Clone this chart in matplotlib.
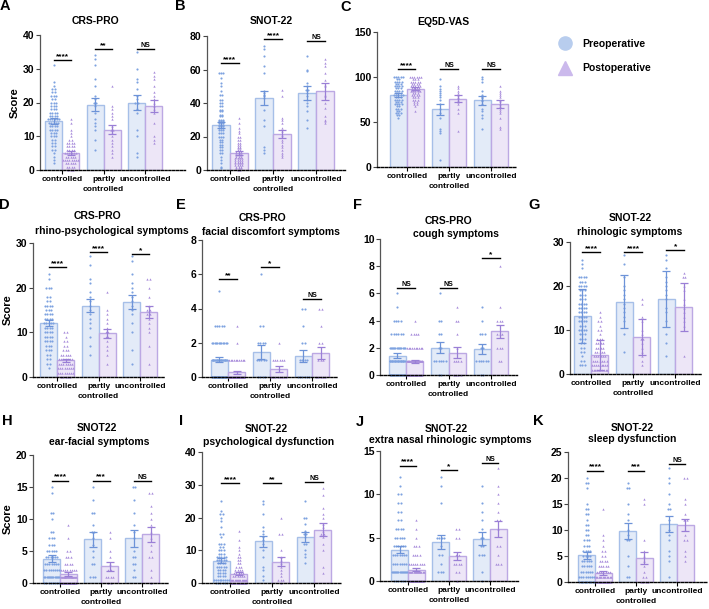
import matplotlib
matplotlib.use("Agg")
import matplotlib.pyplot as plt
import numpy as np

plt.rcParams['font.family'] = ['Liberation Sans', 'DejaVu Sans']
plt.rcParams['font.weight'] = 'bold'

W, H = 709, 609

# first line of each category label, second line drawn separately
categories = ["controlled", "partly", "uncontrolled"]
second_line = ["", "controlled", ""]

# ---- panel meta: letter, title lines, y max, y tick step
letters = ["A", "B", "C", "D", "E", "F", "G", "H", "I", "J", "K"]
titles = [["CRS-PRO"], ["SNOT-22"], ["EQ5D-VAS"],
          ["CRS-PRO", "rhino-psychological symptoms"],
          ["CRS-PRO", "facial discomfort symptoms"],
          ["CRS-PRO", "cough symptoms"],
          ["SNOT-22", "rhinologic symptoms"],
          ["SNOT22", "ear-facial symptoms"],
          ["SNOT-22", "psychological dysfunction"],
          ["SNOT-22", "extra nasal rhinologic symptoms"],
          ["SNOT-22", "sleep dysfunction"]]
ymax = [40, 80, 150, 30, 8, 10, 30, 20, 40, 15, 25]
ystep = [10, 20, 50, 10, 2, 2, 10, 5, 10, 5, 5]

# ---- bar means / error (pre, post) per group
pre_mean = [[14.5, 19.4, 20.0], [27.0, 43.0, 46.0], [80.0, 64.0, 74.0],
            [12.1, 16.0, 16.8], [1.0, 1.45, 1.25], [1.42, 2.0, 1.92],
            [13.2, 16.4, 17.1], [3.8, 6.8, 7.0], [6.8, 12.7, 14.0],
            [3.6, 4.5, 4.9], [5.1, 9.8, 11.1]]
pre_err = [[0.8, 1.8, 2.1], [1.7, 4.0, 4.0], [2.0, 6.0, 5.0],
           [0.7, 1.5, 1.6], [0.15, 0.4, 0.35], [0.2, 0.4, 0.35],
           [6.2, 6.0, 6.4], [0.5, 1.1, 1.3], [0.8, 1.8, 1.5],
           [0.4, 0.8, 0.8], [0.7, 1.5, 1.5]]
post_mean = [[5.0, 12.0, 19.0], [10.0, 21.5, 47.0], [87.0, 76.0, 70.0],
             [3.7, 9.8, 14.5], [0.27, 0.47, 1.38], [1.0, 1.65, 3.2],
             [4.3, 8.4, 15.2], [1.4, 2.6, 7.6], [2.9, 6.5, 16.3],
             [1.3, 2.9, 6.0], [1.8, 4.6, 11.0]]
post_err = [[0.5, 1.3, 1.7], [1.2, 2.5, 5.0], [1.5, 3.5, 4.0],
            [0.4, 1.0, 1.3], [0.08, 0.15, 0.35], [0.1, 0.4, 0.5],
            [3.5, 4.0, 5.4], [0.25, 0.7, 1.2], [0.5, 1.4, 1.9],
            [0.2, 0.5, 0.9], [0.4, 1.2, 1.2]]

# ---- significance labels and heights
sig_text = [["****", "**", "NS"], ["****", "****", "NS"], ["****", "NS", "NS"],
            ["****", "****", "*"], ["**", "*", "NS"], ["NS", "NS", "*"],
            ["****", "****", "*"], ["****", "***", "NS"], ["****", "**", "NS"],
            ["****", "*", "NS"], ["****", "***", "NS"]]
sig_y = [[32.6, 35.9, 35.9], [64, 78, 77], [109, 109, 109],
         [24.6, 28, 27.5], [5.7, 6.4, 4.55], [6.4, 6.4, 8.6],
         [27.7, 27.7, 28.2], [16, 16, 16], [30.4, 30.4, 30.7],
         [13.3, 12.8, 13.6], [21.4, 21.4, 22.7]]

# ---- individual scores, controlled groups as {value: count}
ctrl_pre = [
    {31: 1, 26: 1, 25: 1, 24: 2, 23: 2, 22: 3, 21: 2, 20: 3, 19: 3, 18: 3, 17: 4, 16: 4, 15: 6,
     14: 5, 13: 4, 12: 4, 11: 3, 10: 3, 9: 2, 8: 2, 7: 2, 6: 2, 5: 1, 4: 1, 3: 1, 2: 1},
    {58: 3, 55: 1, 52: 1, 50: 1, 47: 1, 45: 2, 42: 2, 40: 2, 38: 2, 36: 2, 35: 2, 33: 2, 32: 2,
     30: 3, 29: 3, 28: 3, 27: 3, 26: 3, 25: 3, 24: 3, 22: 3, 20: 3, 18: 2, 17: 2, 15: 2, 14: 2,
     12: 2, 10: 2, 8: 1, 6: 1, 4: 1, 2: 1, 1: 1},
    {100: 5, 98: 2, 95: 4, 92: 3, 90: 4, 88: 3, 85: 4, 82: 3, 80: 5, 78: 3, 75: 4, 72: 3, 70: 4,
     68: 2, 65: 3, 62: 2, 60: 3, 58: 2, 55: 1},
    {23: 1, 22: 1, 20: 3, 18: 2, 17: 2, 16: 4, 15: 3, 14: 4, 13: 4, 12: 5, 11: 4, 10: 4, 9: 4,
     8: 4, 7: 3, 6: 3, 5: 2, 4: 2, 3: 2, 2: 1},
    {5: 1, 3: 5, 2: 12, 1: 20, 0: 27},
    {6: 1, 5: 1, 4: 4, 3: 6, 2: 14, 1: 22, 0: 17},
    {26: 1, 25: 1, 24: 1, 22: 4, 21: 3, 20: 4, 19: 3, 18: 3, 17: 3, 16: 4, 15: 4, 14: 4, 13: 4,
     12: 4, 11: 3, 10: 4, 9: 3, 8: 3, 7: 2, 6: 2, 5: 2, 4: 1, 3: 2, 2: 3},
    {15: 1, 14: 1, 11: 2, 10: 1, 8: 2, 7: 3, 6: 3, 5: 5, 4: 6, 3: 7, 2: 8, 1: 14, 0: 8},
    {25: 1, 22: 1, 21: 2, 20: 1, 19: 1, 17: 1, 15: 2, 14: 1, 12: 3, 11: 2, 10: 3, 9: 3, 8: 5,
     7: 5, 6: 4, 5: 5, 4: 4, 3: 4, 2: 4, 1: 9, 0: 6},
    {12: 1, 11: 1, 10: 2, 9: 2, 8: 2, 7: 2, 6: 4, 5: 5, 4: 6, 3: 7, 2: 7, 1: 15, 0: 6},
    {20: 1, 19: 2, 18: 1, 15: 1, 14: 2, 13: 2, 12: 1, 11: 2, 10: 2, 9: 2, 8: 3, 7: 3, 6: 4,
     5: 4, 4: 5, 3: 5, 2: 6, 1: 8, 0: 12},
]
ctrl_post = [
    {15: 1, 14: 1, 12: 1, 11: 1, 10: 1, 9: 2, 8: 4, 7: 4, 6: 4, 5: 6, 4: 5, 3: 8, 2: 5, 1: 4, 0: 3},
    {31: 1, 28: 1, 25: 1, 23: 1, 22: 1, 20: 2, 18: 2, 16: 2, 15: 2, 14: 2, 13: 2, 12: 2, 11: 3,
     10: 3, 9: 3, 8: 3, 7: 4, 6: 4, 5: 4, 4: 4, 3: 4, 2: 3, 1: 3, 0: 2},
    {100: 6, 98: 3, 95: 5, 92: 4, 90: 5, 88: 4, 86: 4, 85: 5, 82: 3, 80: 4, 78: 3, 75: 3, 72: 2,
     70: 2, 68: 1, 62: 1},
    {10: 2, 9: 1, 8: 2, 7: 2, 6: 3, 5: 5, 4: 7, 3: 7, 2: 8, 1: 8, 0: 5},
    {3: 1, 2: 1, 1: 10, 0: 48},
    {4: 1, 3: 4, 2: 10, 1: 26, 0: 19},
    {14: 1, 13: 1, 12: 2, 11: 1, 10: 2, 9: 1, 8: 3, 7: 4, 6: 4, 5: 5, 4: 6, 3: 7, 2: 9, 1: 10},
    {9: 1, 7: 1, 5: 2, 4: 3, 3: 4, 2: 8, 1: 18, 0: 20},
    {16: 1, 13: 1, 11: 1, 10: 1, 9: 1, 8: 2, 7: 2, 6: 2, 5: 3, 4: 4, 3: 5, 2: 6, 1: 14, 0: 15},
    {7: 1, 6: 1, 5: 1, 4: 3, 3: 4, 2: 8, 1: 14, 0: 24},
    {14: 1, 9: 1, 8: 1, 7: 1, 6: 2, 5: 2, 4: 4, 3: 5, 2: 7, 1: 12, 0: 18},
]
# partly controlled / uncontrolled individual scores
part_pre = [
    [34, 33, 31, 27, 25, 22, 21, 20, 20, 19, 17, 15, 14, 13, 12, 9, 6],
    [74, 72, 68, 62, 58, 47, 46, 45, 44, 43, 36, 30, 26, 14, 12, 10],
    [98, 90, 87, 85, 82, 80, 78, 75, 70, 65, 60, 55, 42, 40, 38, 8],
    [27, 25, 22, 21, 19, 18, 17, 16, 15, 14, 13, 12, 11, 9, 7, 5],
    [6, 3, 3, 2, 2, 2, 2, 1, 1, 1, 1, 1, 0, 0, 0, 0],
    [6, 4, 4, 3, 3, 2, 2, 1, 1, 1, 1, 1, 1, 0, 0],
    [27, 25, 22, 20, 19, 18, 17, 16, 15, 14, 13, 12, 9, 5],
    [15, 13, 11, 11, 9, 8, 8, 7, 6, 5, 4, 3, 3, 1, 1, 1],
    [25, 24, 21, 17, 16, 15, 14, 13, 12, 10, 8, 5, 4, 2, 1],
    [12, 11, 9, 5, 5, 5, 5, 4, 3, 3, 2, 1, 1, 1],
    [19, 18, 18, 15, 13, 12, 10, 9, 8, 8, 5, 3, 1, 1],
]
part_post = [
    [25, 19, 18, 17, 16, 15, 13, 12, 12, 11, 10, 9, 8, 7, 6, 5, 4],
    [48, 44, 31, 30, 28, 25, 23, 21, 20, 18, 17, 15, 14, 12, 10, 9, 8],
    [90, 88, 85, 82, 80, 78, 77, 75, 72, 70, 65, 60, 40],
    [19, 15, 14, 13, 12, 11, 10, 10, 9, 9, 8, 7, 6, 5, 3],
    [2, 1, 1, 1, 1, 1, 1, 0, 0, 0, 0, 0, 0, 0, 0],
    [5, 4, 4, 3, 2, 1, 1, 1, 1, 0, 0, 0, 0],
    [17, 16, 13, 12, 10, 9, 8, 8, 7, 6, 5, 4, 3, 2],
    [8, 7, 5, 4, 3, 2, 2, 1, 1, 1, 1, 0, 0],
    [20, 15, 15, 10, 8, 7, 6, 5, 4, 3, 2, 1, 1, 1, 0],
    [6, 6, 5, 5, 3, 3, 2, 2, 2, 2, 1, 1, 0],
    [16, 15, 8, 6, 5, 4, 3, 2, 1, 1, 0, 0, 0, 0],
]
unc_pre = [
    [35, 30, 27, 26, 24, 22, 21, 20, 20, 18, 17, 12, 10, 5, 4],
    [68, 60, 59, 52, 50, 48, 48, 46, 44, 42, 40, 38, 35, 30, 25],
    [100, 98, 95, 85, 80, 78, 77, 75, 73, 70, 65, 62, 58, 55, 42],
    [27, 26, 23, 21, 20, 19, 18, 17, 16, 15, 14, 12, 10, 6, 3],
    [4, 4, 3, 2, 2, 1, 1, 1, 1, 0, 0, 0, 0, 0, 0],
    [5, 4, 3, 3, 3, 2, 2, 1, 1, 1, 1, 1, 1, 0, 0],
    [27, 26, 24, 22, 21, 20, 19, 18, 17, 15, 14, 12, 9, 7, 4],
    [15, 15, 13, 11, 9, 8, 7, 5, 4, 4, 3, 3, 2, 1, 1],
    [25, 20, 20, 18, 16, 15, 15, 14, 12, 12, 10, 9, 8, 6],
    [11, 9, 8, 7, 6, 5, 5, 4, 4, 3, 3, 3, 1, 0],
    [22, 20, 19, 17, 15, 14, 14, 12, 10, 9, 8, 6, 5, 4, 1],
]
unc_post = [
    [29, 28, 27, 25, 23, 22, 21, 20, 19, 18, 17, 14, 10, 9, 8],
    [66, 64, 62, 58, 54, 51, 50, 45, 44, 40, 37, 32, 30, 29, 28],
    [90, 85, 82, 80, 78, 75, 73, 70, 68, 65, 62, 60, 55, 45, 42],
    [22, 22, 20, 18, 16, 15, 15, 14, 14, 13, 12, 11, 10, 7, 3],
    [4, 4, 3, 2, 2, 1, 1, 1, 0, 0, 0, 0, 0],
    [8, 5, 4, 4, 4, 3, 3, 3, 2, 2, 2, 1, 1],
    [23, 22, 22, 20, 19, 17, 16, 15, 14, 13, 12, 11, 4],
    [14, 14, 12, 11, 10, 9, 8, 7, 6, 5, 4, 4, 2, 1, 0],
    [29, 27, 23, 21, 20, 18, 17, 16, 15, 15, 14, 12, 10, 5, 3],
    [13, 11, 10, 9, 8, 7, 7, 6, 4, 4, 3, 2, 2, 2],
    [20, 20, 16, 15, 13, 12, 12, 10, 9, 8, 8, 6, 5, 4],
]

# ---- layout in pixels: y-axis x, right end, top, zero line; x limits
box_px = [(40, 185, 35, 170), (207, 345, 36, 170), (377, 517, 32, 167),
          (33, 165, 243, 377), (202, 338, 240, 377), (380, 517, 239, 375), (570, 702, 242, 374),
          (33, 168, 455, 583), (202, 342, 452, 583), (380, 518, 451, 581), (568, 707, 452, 582)]
xlims = [(-0.53, 2.96), (-0.53, 2.67), (-0.71, 2.62),
         (-0.58, 2.6), (-0.62, 2.62), (-0.61, 2.61), (-0.5, 2.64),
         (-0.66, 2.63), (-0.67, 2.67), (-0.68, 2.68), (-0.66, 2.73)]
letter_px = [(5, 6), (180, 6), (346, 7), (4, 205), (181, 205), (358, 205), (534, 205),
             (7, 421), (181, 421), (360, 422), (538, 421)]
title_px = [[(95, 21)], [(271, 21)], [(443, 22)],
            [(97, 216), (112, 231)], [(262, 218), (271, 232)], [(448, 221), (456, 234)],
            [(630, 218), (630, 232)], [(97, 428), (99, 442)], [(266, 429), (269, 442)],
            [(446, 429), (450, 440)], [(632, 428), (632, 439)]]

PRE_FILL, PRE_EDGE, PRE_PT, PRE_ERR = "#e3ebf8", "#a6bfe8", "#7ea2e0", "#6d93d8"
POST_FILL, POST_EDGE, POST_PT, POST_ERR = "#ede6f7", "#bca8e3", "#a98edb", "#9a7fd6"
BW = 0.41
LABEL_FS = 6.0


def expand(d):
    vals = []
    for v, n in d.items():
        vals += [v] * n
    return vals


def swarm_x(vals, center, unit):
    # spread equal values side by side around the bar centre
    vals = np.asarray(vals, dtype=float)
    xs = np.zeros_like(vals)
    for v in np.unique(vals):
        idx = np.where(vals == v)[0]
        n = len(idx)
        dx = unit if n < 2 else min(unit, 0.36 / (n - 1))
        xs[idx] = center + (np.arange(n) - (n - 1) / 2) * dx
    return xs


fig = plt.figure(figsize=(W / 100, H / 100), dpi=100)

for p in range(11):
    x0, x1, yt, yz = box_px[p]
    ax = fig.add_axes([x0 / W, 1 - yz / H, (x1 - x0) / W, (yz - yt) / H])
    ax.set_xlim(*xlims[p])
    ax.set_ylim(0, ymax[p])

    groups_pre = [expand(ctrl_pre[p]), part_pre[p], unc_pre[p]]
    groups_post = [expand(ctrl_post[p]), part_post[p], unc_post[p]]
    for g in range(3):
        xp, xq = g - BW / 2, g + BW / 2
        ax.bar(xp, pre_mean[p][g], BW, color=PRE_FILL, edgecolor=PRE_EDGE, lw=1.0, zorder=1)
        ax.bar(xq, post_mean[p][g], BW, color=POST_FILL, edgecolor=POST_EDGE, lw=1.0, zorder=1)
        ax.scatter(swarm_x(groups_pre[g], xp, 0.055), groups_pre[g], s=2.4, marker='o',
                   color=PRE_PT, lw=0, zorder=3, clip_on=False)
        ax.scatter(swarm_x(groups_post[g], xq, 0.055), groups_post[g], s=2.8, marker='^',
                   color=POST_PT, lw=0, zorder=3, clip_on=False)
        ax.errorbar(xp, pre_mean[p][g], yerr=pre_err[p][g], color=PRE_ERR, lw=0.9,
                    capsize=3, capthick=0.9, zorder=4)
        ax.errorbar(xq, post_mean[p][g], yerr=post_err[p][g], color=POST_ERR, lw=0.9,
                    capsize=3, capthick=0.9, zorder=4)
        # significance bar
        ax.plot([xp, xq], [sig_y[p][g]] * 2, color="black", lw=1.0, zorder=5, clip_on=False)
        txt = sig_text[p][g]
        ax.text(g, sig_y[p][g], txt, ha="center", va="bottom",
                fontsize=5 if txt == "NS" else 6, fontweight="bold", zorder=5)
        if second_line[g]:
            ax.annotate(second_line[g], xy=(g, 0), xycoords=("data", "axes fraction"),
                        xytext=(0, -11.6), textcoords="offset points", ha="center", va="top",
                        fontsize=LABEL_FS, fontweight="bold")

    ax.set_xticks(range(3))
    ax.set_xticklabels(categories, fontsize=LABEL_FS, fontweight="bold")
    ax.set_yticks(np.arange(0, ymax[p] + 0.01, ystep[p]))
    ax.tick_params(axis='y', labelsize=7.5, length=3, width=0.8, color="#444444", pad=1)
    ax.tick_params(axis='x', length=3, width=0.8, pad=1.2)
    for lab in ax.get_yticklabels():
        lab.set_fontweight("bold")
    for s in ["top", "right"]:
        ax.spines[s].set_visible(False)
    ax.spines["left"].set_color("#555555")
    ax.spines["left"].set_linewidth(0.9)
    ax.spines["bottom"].set_linestyle((0, (1.6, 1.2)))
    ax.spines["bottom"].set_linewidth(1.0)
    ax.spines["bottom"].set_zorder(6)
    if p in (0, 3, 7):
        ax.set_ylabel("Score", fontsize=8, fontweight="bold", labelpad=2)

    # panel letter and title lines
    lx, ly = letter_px[p]
    fig.text(lx / W, 1 - ly / H, letters[p], fontsize=10.5, fontweight="bold",
             ha="center", va="center")
    for line, (tx, ty) in zip(titles[p], title_px[p]):
        fig.text(tx / W, 1 - ty / H, line, fontsize=7.5, fontweight="bold",
                 ha="center", va="center")

# legend
fig.lines.append(plt.Line2D([565 / W], [1 - 43 / H], marker='o', markersize=9.5,
                            color="#b8cdee", lw=0, transform=fig.transFigure))
fig.lines.append(plt.Line2D([565 / W], [1 - 68 / H], marker='^', markersize=9.5,
                            color="#cbb9ec", lw=0, transform=fig.transFigure))
fig.text(582 / W, 1 - 44 / H, "Preoperative", fontsize=7.5, fontweight="bold", va="center")
fig.text(582 / W, 1 - 68 / H, "Postoperative", fontsize=7.5, fontweight="bold", va="center")

fig.savefig("out.png", dpi=100)
